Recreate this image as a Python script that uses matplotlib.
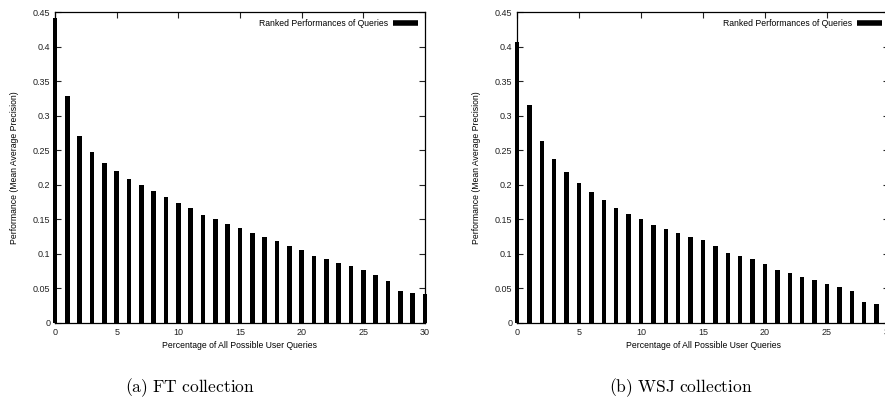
import matplotlib
matplotlib.use('Agg')
import matplotlib.pyplot as plt
from matplotlib.lines import Line2D

plt.rcParams['font.family'] = ['Liberation Sans', 'DejaVu Sans']
plt.rcParams['mathtext.fontset'] = 'cm'

# data
ranks = list(range(31))

ft_map = [0.441, 0.328, 0.271, 0.247, 0.232, 0.220, 0.209, 0.200, 0.191, 0.182,
          0.174, 0.167, 0.156, 0.151, 0.143, 0.137, 0.130, 0.124, 0.118, 0.111,
          0.105, 0.097, 0.092, 0.087, 0.082, 0.076, 0.069, 0.061, 0.047, 0.044,
          0.042]
wsj_map = [0.406, 0.316, 0.264, 0.238, 0.218, 0.202, 0.189, 0.178, 0.166, 0.157,
           0.150, 0.142, 0.136, 0.130, 0.125, 0.120, 0.111, 0.102, 0.097, 0.092,
           0.086, 0.077, 0.072, 0.066, 0.062, 0.057, 0.052, 0.046, 0.030, 0.027,
           0.024]

yticks = [0, 0.05, 0.1, 0.15, 0.2, 0.25, 0.3, 0.35, 0.4, 0.45]
ytick_labels = ['0', '0.05', '0.1', '0.15', '0.2', '0.25', '0.3', '0.35', '0.4', '0.45']
xticks = [0, 5, 10, 15, 20, 25, 30]

legend_label = 'Ranked Performances of Queries'
xlabel = 'Percentage of All Possible User Queries'
ylabel = 'Performance (Mean Average Precision)'
captions = [r'$\mathrm{(a)\ FT\ collection}$', r'$\mathrm{(b)\ WSJ\ collection}$']

fig = plt.figure(figsize=(8.85, 4.17), dpi=100)
ax1 = fig.add_axes([55/885, 1-323/417, 370/885, 311/417])
ax2 = fig.add_axes([517/885, 1-323/417, 372/885, 311/417])


def draw(ax, vals):
    ax.bar(ranks, vals, width=0.37, color='black', clip_on=False, zorder=3)
    ax.set_xlim(0, 30)
    ax.set_ylim(0, 0.45)
    ax.set_xticks(xticks)
    ax.set_xticklabels([str(t) for t in xticks], fontsize=6.5)
    ax.set_yticks(yticks)
    ax.set_yticklabels(ytick_labels, fontsize=6.5)
    ax.tick_params(direction='in', top=True, right=True, length=4.5, width=0.8,
                   pad=3.5, colors='#222222')
    for s in ax.spines.values():
        s.set_linewidth(0.9)
    ax.set_xlabel(xlabel, fontsize=6.2, labelpad=3)
    ax.set_ylabel(ylabel, fontsize=6.2, labelpad=10)
    h = Line2D([0], [0], color='black', lw=4, solid_capstyle='butt')
    ax.legend([h], [legend_label], loc='upper right', frameon=False, fontsize=6.2,
              markerfirst=False, handlelength=2.9, handletextpad=0.6,
              borderaxespad=0.4, bbox_to_anchor=(1.0, 1.0))


draw(ax1, ft_map)
draw(ax2, wsj_map)

fig.text(190/885, 1-388/417, captions[0], fontsize=12.6, ha='center', va='center')
fig.text(681/885, 1-388/417, captions[1], fontsize=12.6, ha='center', va='center')

fig.savefig('out.png', dpi=100)
